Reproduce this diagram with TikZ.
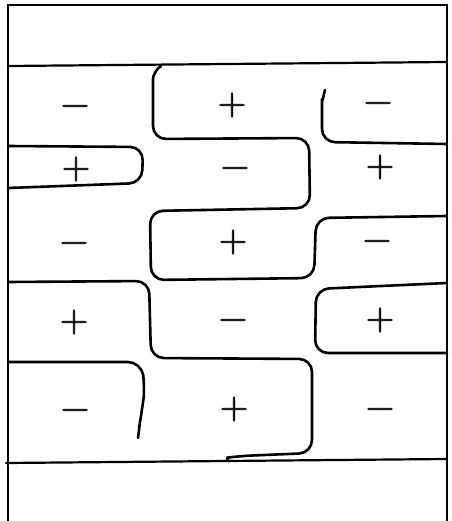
\documentclass[tikz,border=0pt]{standalone}
\usepackage{fontspec}
\newfontfamily\sgnfont[FakeBold=1.6]{lmroman10-regular.otf}
\begin{document}
\begin{tikzpicture}[x=1pt,y=-1pt,
  frame/.style={line width=2.2pt,line cap=round},
  wallline/.style={line width=2.6pt,line cap=round,line join=round,rounded corners=13pt},
  sgn/.style={inner sep=0pt,text height=18.5pt,text depth=0pt,font=\sgnfont\fontsize{37}{37}\selectfont}]
\useasboundingbox (0,0) rectangle (451,521);
% frame
\coordinate (tl) at (8,5);
\coordinate (tr) at (447,5);
\coordinate (bl) at (8,521);
\coordinate (br) at (447,521);
\draw[frame] (bl) -- (tl) -- (tr) -- (br);
\coordinate (h1l) at (8,66);
\coordinate (h1r) at (447,62);
\draw[frame] (h1l) -- (h1r);
\coordinate (h2l) at (6,463);
\coordinate (h2r) at (447,459);
\draw[frame] (h2l) -- (h2r);
% domain walls
\draw[wallline] (161,66) .. controls (156,69) and (153,76) .. (153,92)
  -- (153,139) -- (309,138) -- (310,208) -- (150,211) -- (151,280)
  -- (314,278) -- (316,218) -- (447,216);
\draw[wallline] (325,90) .. controls (323,98) and (322,104) .. (322,112)
  -- (322,142) -- (447,144);
\draw[wallline] (8,146) -- (143,147) -- (142,183) -- (8,188);
\draw[wallline] (8,282) -- (149,281) -- (151,358) -- (312,359)
  -- (312,453) -- (240,456) .. controls (232,457) and (229,458) .. (227,459);
\draw[wallline] (447,283) -- (316,289) -- (315,353) -- (447,353);
\draw[wallline] (8,362) -- (141,362) .. controls (144,380) and (144,395) .. (142,410)
  .. controls (140,422) and (139,430) .. (138,438);
% signs
\node[sgn] (r1a) at (75,106) {−};
\node[sgn] (r1b) at (232,105) {+};
\node[sgn] (r1c) at (378,103) {−};
\node[sgn] (r2a) at (76,169) {+};
\node[sgn] (r2b) at (235,168) {−};
\node[sgn] (r2c) at (380,167) {+};
\node[sgn] (r3a) at (74,243) {−};
\node[sgn] (r3b) at (233,242) {+};
\node[sgn] (r3c) at (377,241) {−};
\node[sgn] (r4a) at (74,322) {+};
\node[sgn] (r4b) at (233,320) {−};
\node[sgn] (r4c) at (380,320) {+};
\node[sgn] (r5a) at (75,410) {−};
\node[sgn] (r5b) at (234,409) {+};
\node[sgn] (r5c) at (380,409) {−};
\end{tikzpicture}
\end{document}
